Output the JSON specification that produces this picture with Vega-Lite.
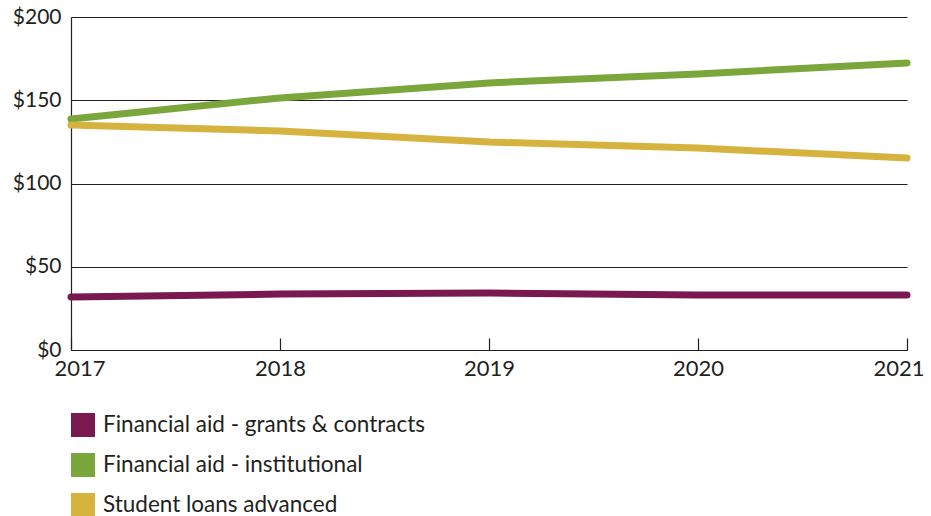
{
  "$schema": "https://vega.github.io/schema/vega-lite/v6.json",
  "width": 836,
  "height": 333,
  "autosize": "none",
  "padding": {"left": 71, "top": 17, "right": 24, "bottom": 166},
  "background": "white",
  "config": {
    "view": {"stroke": null},
    "font": "Lato",
    "axis": {"labelFont": "Lato", "labelColor": "#231f20", "labelFontSize": 22}
  },
  "data": {
    "values": [
      {"year": 2017, "series": "Financial aid - grants & contracts", "value": 31.8},
      {"year": 2018, "series": "Financial aid - grants & contracts", "value": 33.6},
      {"year": 2019, "series": "Financial aid - grants & contracts", "value": 34.2},
      {"year": 2020, "series": "Financial aid - grants & contracts", "value": 33.0},
      {"year": 2021, "series": "Financial aid - grants & contracts", "value": 33.0},
      {"year": 2017, "series": "Financial aid - institutional", "value": 138.7},
      {"year": 2018, "series": "Financial aid - institutional", "value": 151.4},
      {"year": 2019, "series": "Financial aid - institutional", "value": 160.4},
      {"year": 2020, "series": "Financial aid - institutional", "value": 165.8},
      {"year": 2021, "series": "Financial aid - institutional", "value": 172.4},
      {"year": 2017, "series": "Student loans advanced", "value": 135.1},
      {"year": 2018, "series": "Student loans advanced", "value": 131.5},
      {"year": 2019, "series": "Student loans advanced", "value": 124.9},
      {"year": 2020, "series": "Student loans advanced", "value": 121.3},
      {"year": 2021, "series": "Student loans advanced", "value": 115.3}
    ]
  },
  "mark": {"type": "line", "strokeWidth": 7, "strokeCap": "round", "strokeJoin": "round"},
  "encoding": {
    "x": {
      "field": "year", "type": "quantitative",
      "scale": {"domain": [2017, 2021], "nice": false, "zero": false},
      "axis": {
        "title": null, "values": [2017, 2018, 2019, 2020, 2021], "format": "d",
        "grid": false, "domainColor": "#231f20", "domainWidth": 1.2,
        "labelFlush": true, "labelFlushOffset": 17,
        "tickColor": "#231f20", "tickSize": -12, "tickWidth": 1.2, "labelPadding": 20
      }
    },
    "y": {
      "field": "value", "type": "quantitative",
      "scale": {"domain": [0, 200], "nice": false},
      "axis": {
        "title": null, "values": [0, 50, 100, 150, 200], "format": "$d", "labelFontSize": 21,
        "grid": true, "gridColor": "#231f20", "gridWidth": 1.2, "gridOpacity": 1,
        "domainColor": "#231f20", "domainWidth": 1.2, "ticks": false, "labelPadding": 10
      }
    },
    "color": {
      "field": "series", "type": "nominal",
      "scale": {
        "domain": ["Financial aid - grants & contracts", "Financial aid - institutional", "Student loans advanced"],
        "range": ["#7a1850", "#7aa63c", "#d6b33f"]
      },
      "legend": {
        "title": null, "orient": "none", "legendX": 0, "legendY": 396,
        "symbolType": "square", "symbolSize": 576, "symbolStrokeWidth": 0, "symbolOpacity": 1,
        "labelFont": "Lato", "labelFontSize": 22.5, "labelColor": "#231f20",
        "rowPadding": 16, "labelOffset": 8, "labelLimit": 500,
        "encode": {"symbols": {"update": {"fill": {"scale": "color", "field": "value"}, "stroke": {"value": "transparent"}}}}
      }
    }
  }
}
